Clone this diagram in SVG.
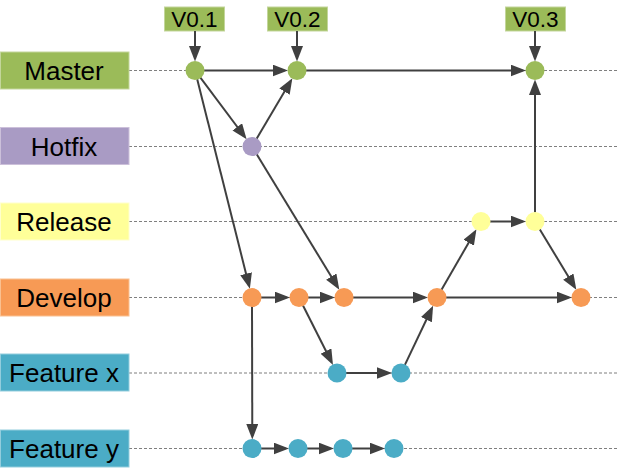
<svg xmlns="http://www.w3.org/2000/svg" width="618" height="468" viewBox="0 0 618 468">
<style>
.lbl{font-family:"Liberation Sans",Arial,sans-serif;font-size:26px;fill:#000;text-anchor:middle}
.tag{font-family:"Liberation Sans",Arial,sans-serif;font-size:22.5px;fill:#000;text-anchor:middle}
.lane{stroke:#7f7f7f;stroke-width:1;stroke-dasharray:3,2;fill:none}
.e{stroke:#404040;stroke-width:2;fill:none;marker-end:url(#ah)}
.g{fill:#9bbb59}.p{fill:#a99bc4}.y{fill:#ffff99}.o{fill:#f79a55}.t{fill:#4bacc6}
.bx{stroke-width:1}
</style>
<defs>
<marker id="ah" markerUnits="userSpaceOnUse" markerWidth="18" markerHeight="14" refX="12" refY="6" orient="auto">
<path d="M0,0 L15.5,6 L0,12 z" fill="#404040"/>
</marker>
</defs>
<g id="lanes">
<line class="lane" x1="129" y1="70.5" x2="618" y2="70.5"/>
<line class="lane" x1="129" y1="146.5" x2="618" y2="146.5"/>
<line class="lane" x1="129" y1="221.5" x2="618" y2="221.5"/>
<line class="lane" x1="129" y1="297.5" x2="618" y2="297.5"/>
<line class="lane" x1="129" y1="373" x2="618" y2="373"/>
<line class="lane" x1="129" y1="448.5" x2="618" y2="448.5"/>
</g>
<g id="label-master"><rect class="g bx" x="0.5" y="52" width="128.5" height="37" stroke="#c3d69b"/><text class="lbl" x="64" y="79.5">Master</text></g>
<g id="label-hotfix"><rect class="p bx" x="0.5" y="127.5" width="128.5" height="37" stroke="#ccc0da"/><text class="lbl" x="64" y="155.5">Hotfix</text></g>
<g id="label-release"><rect class="y bx" x="0.5" y="203" width="128.5" height="37" stroke="#ffffcc"/><text class="lbl" x="64" y="230.5">Release</text></g>
<g id="label-develop"><rect class="o bx" x="0.5" y="279" width="128.5" height="37" stroke="#fac090"/><text class="lbl" x="64" y="306.5">Develop</text></g>
<g id="label-featurex"><rect class="t bx" x="0.5" y="354" width="128.5" height="37" stroke="#93cddd"/><text class="lbl" x="64" y="382">Feature x</text></g>
<g id="label-featurey"><rect class="t bx" x="0.5" y="430" width="128.5" height="37" stroke="#93cddd"/><text class="lbl" x="64" y="457.5">Feature y</text></g>
<g id="tag-v01"><rect class="g bx" x="164.5" y="7" width="60" height="24" stroke="#c3d69b"/><text class="tag" x="194.5" y="27">V0.1</text></g>
<g id="tag-v02"><rect class="g bx" x="267.5" y="7" width="60" height="24" stroke="#c3d69b"/><text class="tag" x="297.5" y="27">V0.2</text></g>
<g id="tag-v03"><rect class="g bx" x="505.5" y="7" width="60" height="24" stroke="#c3d69b"/><text class="tag" x="535.5" y="27">V0.3</text></g>
<g id="connectors">
<line class="e" x1="195" y1="31" x2="195" y2="58"/>
<line class="e" x1="297" y1="31" x2="297" y2="58"/>
<line class="e" x1="535" y1="31" x2="535" y2="58"/>
<line class="e" x1="204" y1="70.5" x2="284.5" y2="70.5"/>
<line class="e" x1="306" y1="70.5" x2="522.5" y2="70.5"/>
<line class="e" x1="200.4" y1="77.7" x2="244.5" y2="136.5"/>
<line class="e" x1="256.6" y1="138.8" x2="290.6" y2="81.3"/>
<line class="e" x1="197.2" y1="79.2" x2="249" y2="285.4"/>
<line class="e" x1="256.7" y1="154.2" x2="337.5" y2="286.8"/>
<line class="e" x1="261" y1="297.5" x2="286.5" y2="297.5"/>
<line class="e" x1="308" y1="297.5" x2="331.5" y2="297.5"/>
<line class="e" x1="353" y1="297.5" x2="424.5" y2="297.5"/>
<line class="e" x1="446" y1="297.5" x2="568.5" y2="297.5"/>
<line class="e" x1="303" y1="305.5" x2="331.4" y2="361.8"/>
<line class="e" x1="346" y1="373" x2="388.5" y2="373"/>
<line class="e" x1="404.9" y1="364.9" x2="431.6" y2="308.8"/>
<line class="e" x1="441.5" y1="289.7" x2="474.7" y2="232.3"/>
<line class="e" x1="490" y1="221.5" x2="522.5" y2="221.5"/>
<line class="e" x1="535" y1="212.5" x2="535" y2="83"/>
<line class="e" x1="539.7" y1="229.2" x2="574.5" y2="286.8"/>
<line class="e" x1="252" y1="306.5" x2="252.3" y2="436"/>
<line class="e" x1="261" y1="448.5" x2="285.5" y2="448.5"/>
<line class="e" x1="307" y1="448.5" x2="330.5" y2="448.5"/>
<line class="e" x1="352" y1="448.5" x2="381.5" y2="448.5"/>
</g>
<g id="m1"><circle class="g" cx="195" cy="70.5" r="9.5"/></g>
<g id="m2"><circle class="g" cx="297" cy="70.5" r="9.5"/></g>
<g id="m3"><circle class="g" cx="535" cy="70.5" r="9.5"/></g>
<g id="h1"><circle class="p" cx="252" cy="146.5" r="9.5"/></g>
<g id="r1"><circle class="y" cx="481" cy="221.5" r="9.5"/></g>
<g id="r2"><circle class="y" cx="535" cy="221.5" r="9.5"/></g>
<g id="d1"><circle class="o" cx="252" cy="297.5" r="9.5"/></g>
<g id="d2"><circle class="o" cx="299" cy="297.5" r="9.5"/></g>
<g id="d3"><circle class="o" cx="344" cy="297.5" r="9.5"/></g>
<g id="d4"><circle class="o" cx="437" cy="297.5" r="9.5"/></g>
<g id="d5"><circle class="o" cx="581" cy="297.5" r="9.5"/></g>
<g id="fx1"><circle class="t" cx="337" cy="373" r="9.5"/></g>
<g id="fx2"><circle class="t" cx="401" cy="373" r="9.5"/></g>
<g id="fy1"><circle class="t" cx="252" cy="448.5" r="9.5"/></g>
<g id="fy2"><circle class="t" cx="298" cy="448.5" r="9.5"/></g>
<g id="fy3"><circle class="t" cx="343" cy="448.5" r="9.5"/></g>
<g id="fy4"><circle class="t" cx="394" cy="448.5" r="9.5"/></g>
</svg>
